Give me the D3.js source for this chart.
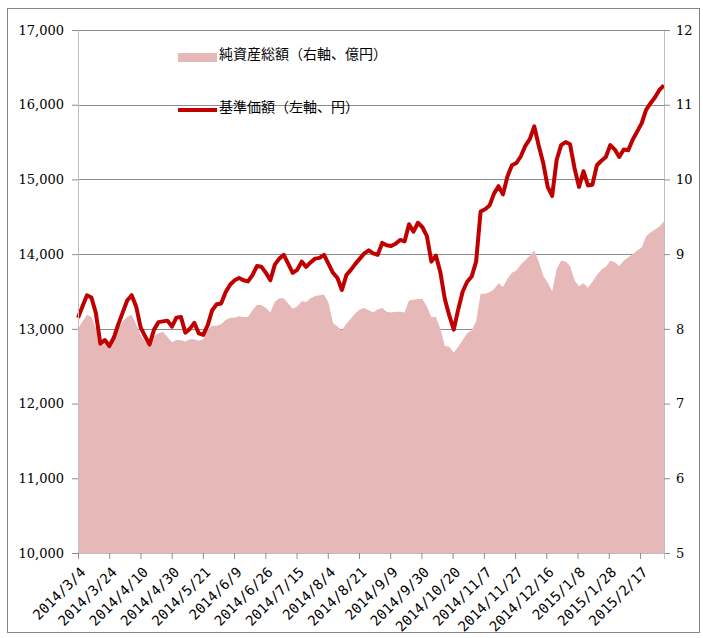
<!DOCTYPE html>
<html>
<head>
<meta charset="utf-8">
<script src="https://cdn.jsdelivr.net/npm/d3@7"></script>
<style>
  body { margin: 0; background: #fff; }
  .tick text { font-family: "DejaVu Serif", serif; font-size: 13px; fill: #000; }
  .xaxis .tick text { font-family: "DejaVu Sans Mono", monospace; font-size: 14px; }
  .legendLabel { font-family: "Noto Sans CJK JP", sans-serif; font-size: 14px; }
</style>
</head>
<body>
<svg class="chart" width="703" height="638"></svg>
<script>
// number of trading days on the category axis, labels every 13 days
let dayCount = 244;
let labelEvery = 13;

let xLabels = ["2014/3/4", "2014/3/24", "2014/4/10", "2014/4/30", "2014/5/21", "2014/6/9",
  "2014/6/26", "2014/7/15", "2014/8/4", "2014/8/21", "2014/9/9", "2014/9/30", "2014/10/20",
  "2014/11/7", "2014/11/27", "2014/12/16", "2015/1/8", "2015/1/28", "2015/2/17"];

// 基準価額 (yen, left axis), read off roughly every 2 days
let nav = [13150, 13300, 13450, 13420, 13210, 12800, 12850, 12770, 12880, 13060,
  13220, 13380, 13450, 13300, 13020, 12900, 12790, 12990, 13090, 13100,
  13110, 13030, 13150, 13160, 12950, 13000, 13080, 12940, 12920, 13050,
  13250, 13330, 13340, 13490, 13590, 13650, 13680, 13650, 13635, 13720,
  13840, 13830, 13750, 13650, 13860, 13940, 13990, 13870, 13750, 13790,
  13900, 13830, 13890, 13940, 13950, 13990, 13870, 13750, 13680, 13520,
  13720, 13790, 13870, 13940, 14010, 14050, 14010, 13990, 14150, 14120,
  14110, 14140, 14190, 14170, 14400, 14300, 14420, 14360, 14240, 13900,
  13980, 13760, 13400, 13180, 12990, 13260, 13500, 13630, 13700, 13900,
  14570, 14600, 14650, 14810, 14910, 14800, 15040, 15190, 15220, 15310,
  15450, 15540, 15710, 15450, 15220, 14900, 14780, 15260, 15460, 15500,
  15470, 15150, 14900, 15110, 14920, 14930, 15190, 15250, 15300, 15460,
  15400, 15300, 15400, 15390, 15530, 15640, 15750, 15930, 16020, 16100,
  16200, 16260];

// 純資産総額 (100 million yen, right axis)
let aum = [8.00, 8.10, 8.19, 8.16, 8.00, 7.77, 7.80, 7.79, 7.89, 8.01,
  8.10, 8.16, 8.19, 8.06, 7.92, 7.83, 7.78, 7.90, 7.94, 7.96,
  7.89, 7.82, 7.85, 7.85, 7.83, 7.86, 7.86, 7.84, 7.86, 7.99,
  8.04, 8.04, 8.06, 8.12, 8.15, 8.15, 8.17, 8.16, 8.16, 8.25,
  8.32, 8.32, 8.28, 8.22, 8.36, 8.41, 8.41, 8.34, 8.27, 8.30,
  8.37, 8.36, 8.41, 8.44, 8.45, 8.46, 8.35, 8.08, 8.03, 7.98,
  8.07, 8.14, 8.21, 8.26, 8.28, 8.25, 8.22, 8.26, 8.28, 8.23,
  8.22, 8.23, 8.23, 8.22, 8.38, 8.39, 8.40, 8.40, 8.30, 8.16,
  8.16, 8.00, 7.77, 7.76, 7.68, 7.76, 7.85, 7.94, 7.98, 8.10,
  8.47, 8.47, 8.49, 8.53, 8.61, 8.56, 8.67, 8.75, 8.78, 8.86,
  8.92, 8.98, 9.05, 8.90, 8.71, 8.62, 8.50, 8.80, 8.91, 8.90,
  8.84, 8.65, 8.57, 8.61, 8.55, 8.63, 8.72, 8.79, 8.83, 8.91,
  8.89, 8.84, 8.91, 8.96, 9.00, 9.05, 9.09, 9.24, 9.29, 9.33,
  9.37, 9.44];

let leftTicks = [10000, 11000, 12000, 13000, 14000, 15000, 16000, 17000];
let rightTicks = [5, 6, 7, 8, 9, 10, 11, 12];

let legendNames = ["純資産総額（右軸、億円）", "基準価額（左軸、円）"];

var svg = d3.select(".chart");
var width = +svg.attr("width");
var height = +svg.attr("height");

// outer frame
svg.append("rect")
   .attr("x", 7.5).attr("y", 8.5)
   .attr("width", 692).attr("height", 624)
   .attr("fill", "none")
   .attr("stroke", "#868686");

let margin = {left: 78, right: 39, top: 30, bottom: 85};
let innerWidth = width - margin.left - margin.right;
let innerHeight = height - margin.top - margin.bottom;

// category axis (days) and the sampled series share the same pixel range
var xScale = d3.scaleLinear().domain([0, dayCount]).range([0, innerWidth]);
var xSample = d3.scaleLinear().domain([0, nav.length - 1]).range([0, innerWidth]);
var yLeft = d3.scaleLinear().domain([10000, 17000]).range([innerHeight, 0]);
var yRight = d3.scaleLinear().domain([5, 12]).range([innerHeight, 0]);

let g = svg.append("g")
           .attr("transform", `translate(${margin.left}, ${margin.top})`);

// gridlines
g.append("g")
 .selectAll("line")
 .data(leftTicks.slice(1))
 .enter()
 .append("line")
 .attr("x1", 0).attr("x2", innerWidth)
 .attr("y1", d => Math.round(yLeft(d)) + 0.5)
 .attr("y2", d => Math.round(yLeft(d)) + 0.5)
 .attr("stroke", "#8c8c8c");

// area
g.append("path")
 .datum(aum)
 .attr("fill", "#e6b9b8")
 .attr("d", d3.area()
    .x((d, i) => xSample(i))
    .y0(innerHeight)
    .y1(d => yRight(d)));

// line
g.append("path")
 .datum(nav)
 .attr("fill", "none")
 .attr("stroke", "#c00000")
 .attr("stroke-width", 4)
 .attr("stroke-linejoin", "round")
 .attr("d", d3.line()
    .x((d, i) => xSample(i))
    .y(d => yLeft(d)));

// axes
let leftAxis = g.append("g")
 .call(d3.axisLeft(yLeft).tickValues(leftTicks).tickFormat(d3.format(",")).tickSize(6).tickPadding(8));
let rightAxis = g.append("g")
 .attr("transform", `translate(${innerWidth}, 0)`)
 .call(d3.axisRight(yRight).tickValues(rightTicks).tickFormat(d3.format("d")).tickSize(6).tickPadding(6));

let tickIdx = d3.range(0, dayCount, labelEvery);
let xAxis = g.append("g")
 .attr("class", "xaxis")
 .attr("transform", `translate(0, ${innerHeight})`)
 .call(d3.axisBottom(xScale).tickValues(tickIdx)
    .tickFormat((d, i) => xLabels[i] || "").tickSize(6));

xAxis.selectAll(".tick text")
 .attr("text-anchor", "end")
 .attr("x", 0)
 .attr("y", 0)
 .attr("dy", 0)
 .attr("transform", "translate(8, 20) rotate(-45)");

[leftAxis, rightAxis, xAxis].forEach(a => {
  a.select(".domain").attr("stroke", "#bfbfbf");
  a.selectAll(".tick line").attr("stroke", "#8c8c8c");
});

// legend
let legend = svg.append("g");
legend.append("rect")
 .attr("x", 178).attr("y", 53)
 .attr("width", 39).attr("height", 9)
 .attr("fill", "#e6b9b8");
legend.append("line")
 .attr("x1", 178).attr("x2", 217)
 .attr("y1", 110).attr("y2", 110)
 .attr("stroke", "#c00000")
 .attr("stroke-width", 4);
legend.selectAll(".legendLabel")
 .data(legendNames)
 .enter()
 .append("text")
 .attr("class", "legendLabel")
 .attr("x", 219)
 .attr("y", (d, i) => 55 + i * 53)
 .attr("dominant-baseline", "middle")
 .text(d => d);
</script>
</body>
</html>
